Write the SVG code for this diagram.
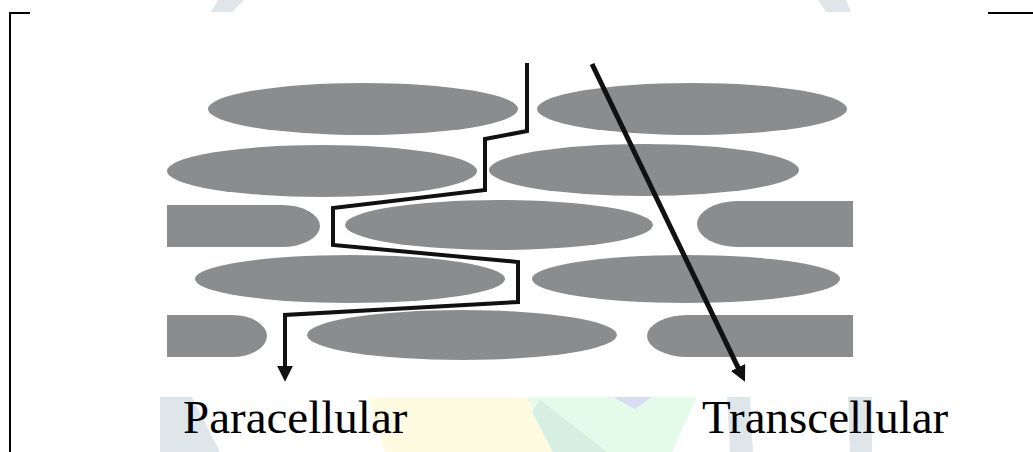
<svg xmlns="http://www.w3.org/2000/svg" width="1033" height="452" viewBox="0 0 1033 452">
  <style>
    .cell { fill: #8b8c8e; }
    .route { fill: none; stroke: #111; stroke-linejoin: miter; stroke-linecap: butt; }
    .frame { fill: none; stroke: #000; stroke-width: 2; }
    .label { font-family: "Liberation Serif", "Times New Roman", serif; font-size: 47px; fill: #000; }
  </style>
  <defs>
    <marker id="head" viewBox="0 0 10 10" refX="2" refY="5" markerWidth="16" markerHeight="16" markerUnits="userSpaceOnUse" orient="auto">
      <path d="M0,0 L10,5 L0,10 Z" fill="#111"/>
    </marker>
  </defs>

  <rect width="1033" height="452" fill="#fff"/>

  <!-- faint background logo -->
  <g id="backdrop" opacity="1">
    <polygon points="218,0 244,0 232,12 211,12" fill="#dfe5e9"/>
    <polygon points="818,0 846,0 851,12 826,12" fill="#dfe5e9"/>
    <polygon points="160,397 192,397 220,452 160,452" fill="#dfe6ea"/>
    <polygon points="368,397 527,397 553,452 385,452" fill="#fffbe0"/>
    <polygon points="527,397 697,397 672,452 553,452" fill="#e4fbea"/>
    <polygon points="540,400 607,452 553,452 532,412" fill="#d7efe3"/>
    <polygon points="613,397 652,397 635,409" fill="#d8dcf4"/>
    <polygon points="727,397 750,397 753,452 730,452" fill="#dfe6ea"/>
    <polygon points="848,397 872,397 872,452 850,452" fill="#dfe6ea"/>
  </g>

  <!-- border corners -->
  <g id="frame">
    <polyline class="frame" points="30,13 10,13 10,452"/>
    <line class="frame" x1="988" y1="13" x2="1033" y2="13"/>
  </g>

  <!-- epithelial cells, row by row -->
  <g id="cell-r1-a"><ellipse class="cell" cx="363" cy="109" rx="155" ry="26"/></g>
  <g id="cell-r1-b"><ellipse class="cell" cx="692" cy="109" rx="155" ry="26"/></g>
  <g id="cell-r2-a"><ellipse class="cell" cx="322" cy="171" rx="155" ry="26"/></g>
  <g id="cell-r2-b"><ellipse class="cell" cx="644" cy="170" rx="155" ry="26"/></g>
  <g id="cell-r3-a"><path class="cell" d="M167,205 H282 A38,21 0 0 1 282,247 H167 Z"/></g>
  <g id="cell-r3-b"><ellipse class="cell" cx="499" cy="225" rx="154" ry="25"/></g>
  <g id="cell-r3-c"><path class="cell" d="M853,201 H738 A41,23 0 0 0 738,247 H853 Z"/></g>
  <g id="cell-r4-a"><ellipse class="cell" cx="350" cy="279" rx="155" ry="24"/></g>
  <g id="cell-r4-b"><ellipse class="cell" cx="686" cy="279" rx="154" ry="24"/></g>
  <g id="cell-r5-a"><path class="cell" d="M167,315 H232 A35,21 0 0 1 232,357 H167 Z"/></g>
  <g id="cell-r5-b"><ellipse class="cell" cx="462" cy="335" rx="155" ry="25"/></g>
  <g id="cell-r5-c"><path class="cell" d="M853,315 H688 A41,21 0 0 0 688,357 H853 Z"/></g>

  <!-- transport routes -->
  <g id="connectors">
    <path id="paracellular-route" class="route" stroke-width="4" marker-end="url(#head)"
          d="M527,63 V131 L485,139 V190 L333,208 V245 L518,262 V302 L285,315 V369"/>
    <path id="transcellular-route" class="route" stroke-width="5" marker-end="url(#head)"
          d="M592,64 L739.4,370.3"/>
  </g>

  <g id="label-paracellular"><text class="label" x="183" y="433">Paracellular</text></g>
  <g id="label-transcellular"><text class="label" x="702" y="433">Transcellular</text></g>
</svg>
